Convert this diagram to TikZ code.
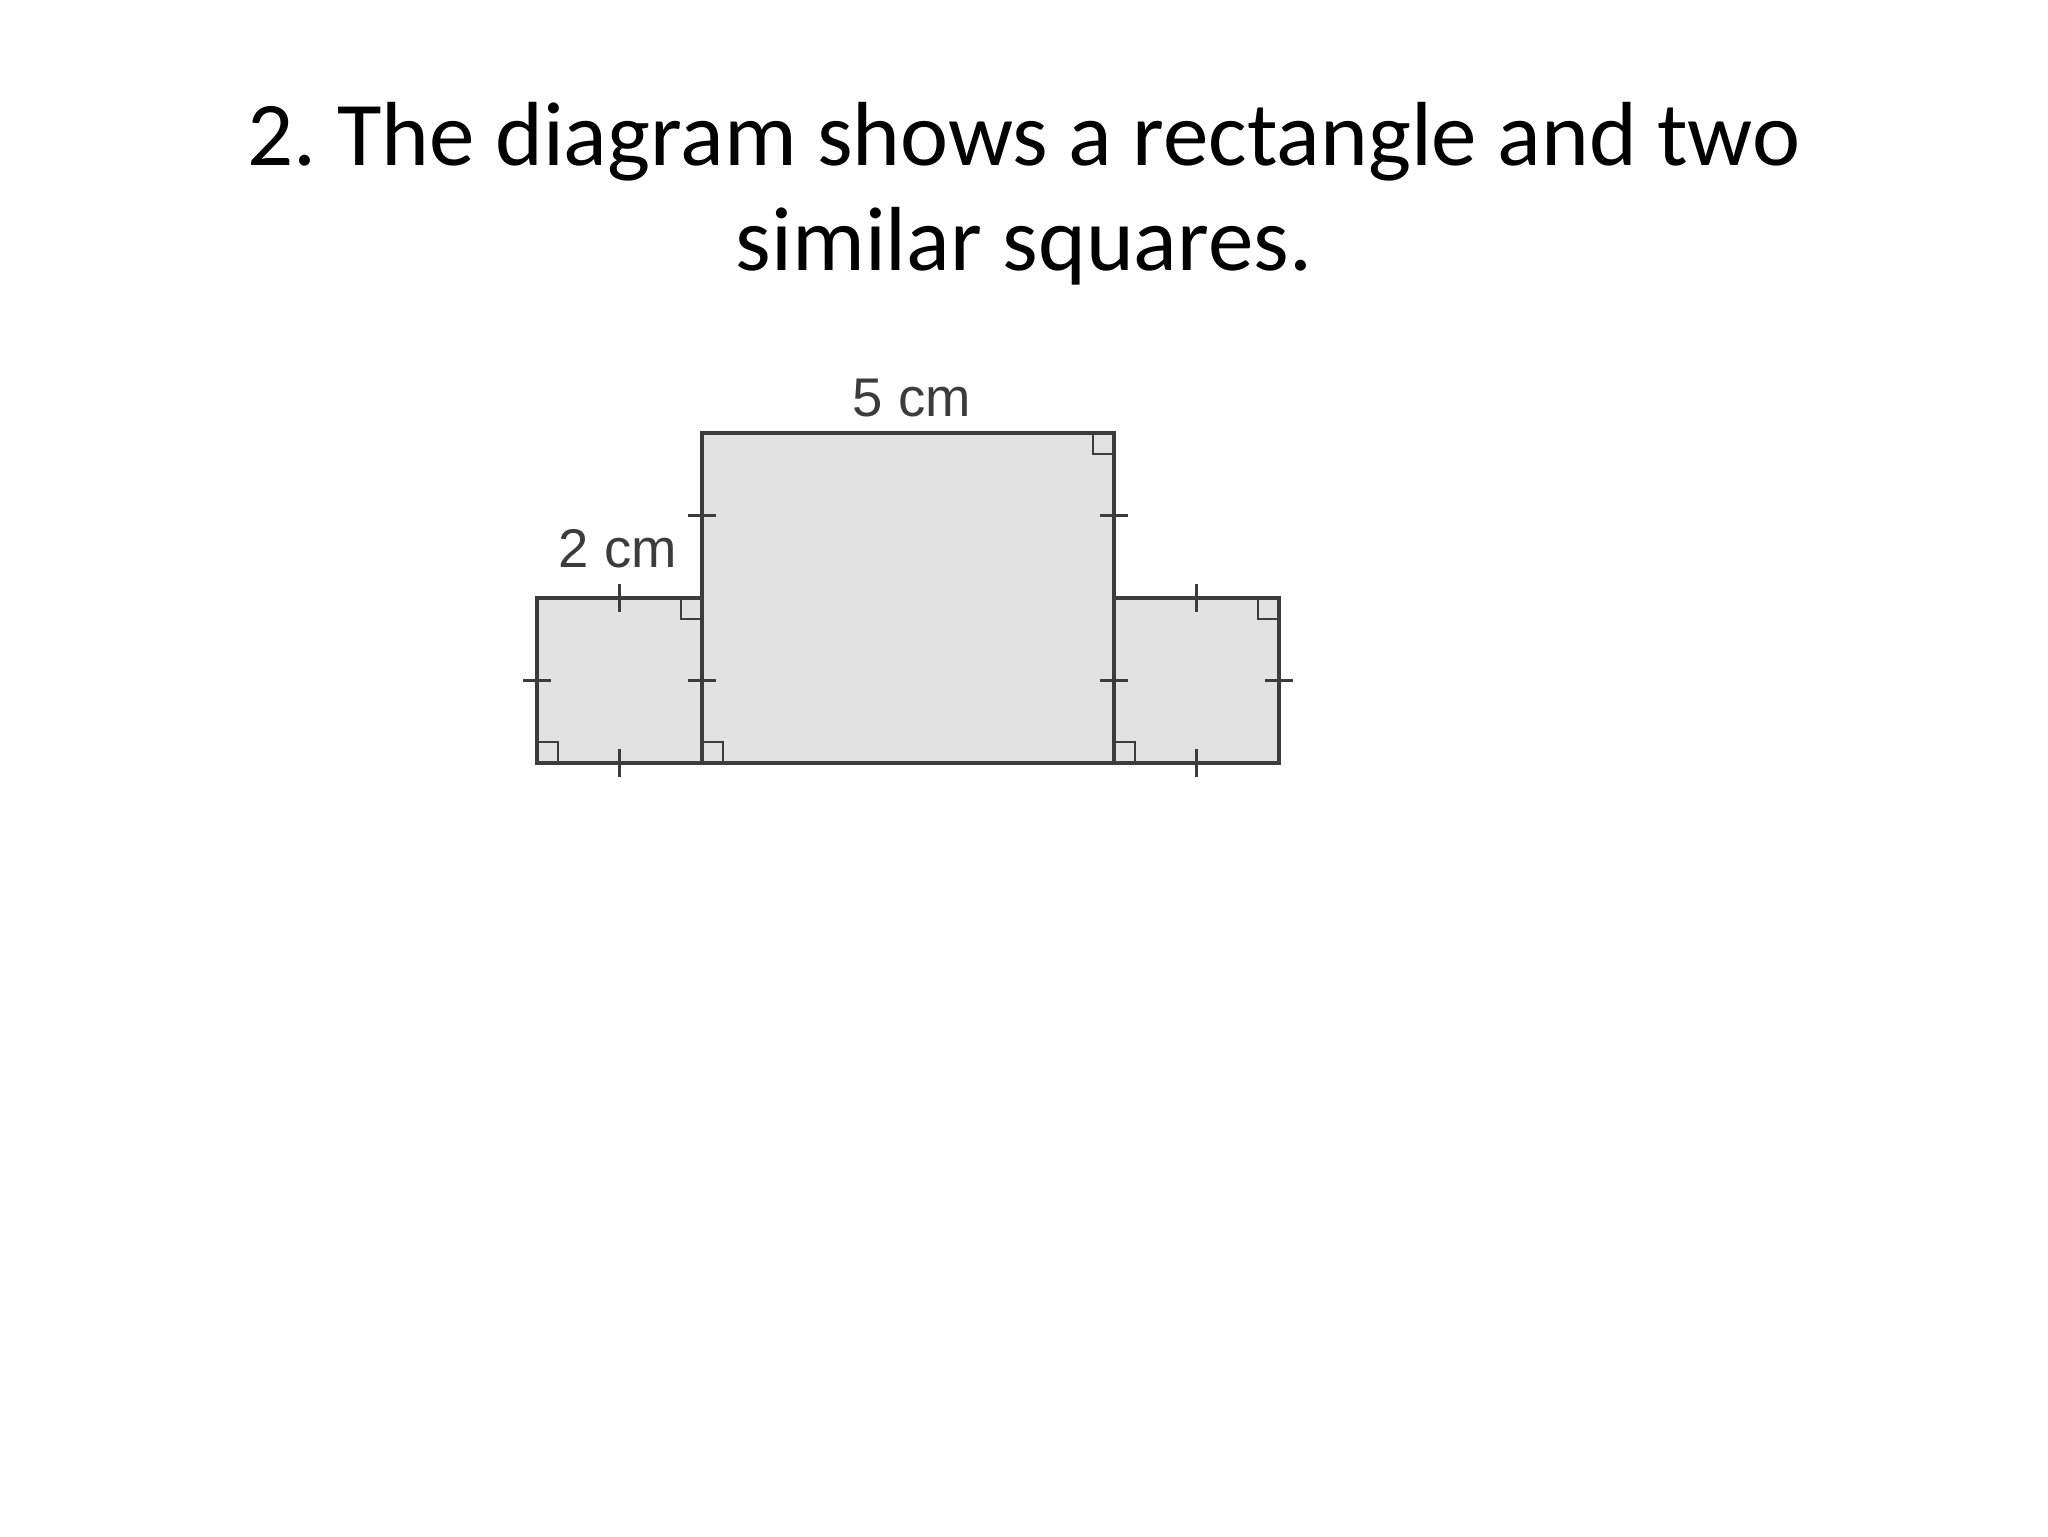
\documentclass[tikz,border=0pt]{standalone}
\usepackage{fontspec}
\setmainfont{Carlito}
\newfontfamily\labelfont{Liberation Sans}
\definecolor{edge}{HTML}{3C3C3C}
\definecolor{shade}{HTML}{E2E2E2}
\frenchspacing
\begin{document}
\begin{tikzpicture}[x=0.1mm,y=-0.1mm,
  shapeline/.style={draw=edge,line width=1pt,fill=shade},
  tick/.style={draw=edge,line width=0.8pt},
  rightmark/.style={draw=edge,line width=0.8pt},
  lbl/.style={font=\labelfont\fontsize{15.5}{18}\selectfont,text=edge,inner sep=0pt}]
\useasboundingbox[fill=white] (0,0) rectangle (2048,1536);
% title
\node[font=\fontsize{25.9}{29.7}\selectfont,align=center,anchor=base] (title) at (1024,270)
  {2. The diagram shows a rectangle and two\\similar squares.};
% corners
\coordinate (LSa) at (537,598);  \coordinate (LSb) at (702,763);
\coordinate (BRa) at (702,433);  \coordinate (BRb) at (1114,763);
\coordinate (RSa) at (1114,598); \coordinate (RSb) at (1279,763);
\path[shapeline] (LSa) rectangle (LSb);
\path[shapeline] (RSa) rectangle (RSb);
\path[shapeline] (BRa) rectangle (BRb);
% right-angle markers (size 21)
\draw[rightmark] (681,598) -- (681,619) -- (702,619);   % left square top-right
\draw[rightmark] (537,742) -- (558,742) -- (558,763);   % left square bottom-left
\draw[rightmark] (702,742) -- (723,742) -- (723,763);   % big rect bottom-left
\draw[rightmark] (1093,433) -- (1093,454) -- (1114,454);% big rect top-right
\draw[rightmark] (1258,598) -- (1258,619) -- (1279,619);% right square top-right
\draw[rightmark] (1114,742) -- (1135,742) -- (1135,763);% right square bottom-left
% equal-length ticks
\draw[tick] (619.5,584) -- (619.5,612);
\draw[tick] (619.5,749) -- (619.5,777);
\draw[tick] (523,680.5) -- (551,680.5);
\draw[tick] (688,680.5) -- (716,680.5);
\draw[tick] (688,515.5) -- (716,515.5);
\draw[tick] (1100,515.5) -- (1128,515.5);
\draw[tick] (1100,680.5) -- (1128,680.5);
\draw[tick] (1196.5,584) -- (1196.5,612);
\draw[tick] (1196.5,749) -- (1196.5,777);
\draw[tick] (1265,680.5) -- (1293,680.5);
% labels
\node[lbl] (five) at (912,398) {5 cm};
\node[lbl] (two) at (618,549) {2 cm};
\end{tikzpicture}
\end{document}
